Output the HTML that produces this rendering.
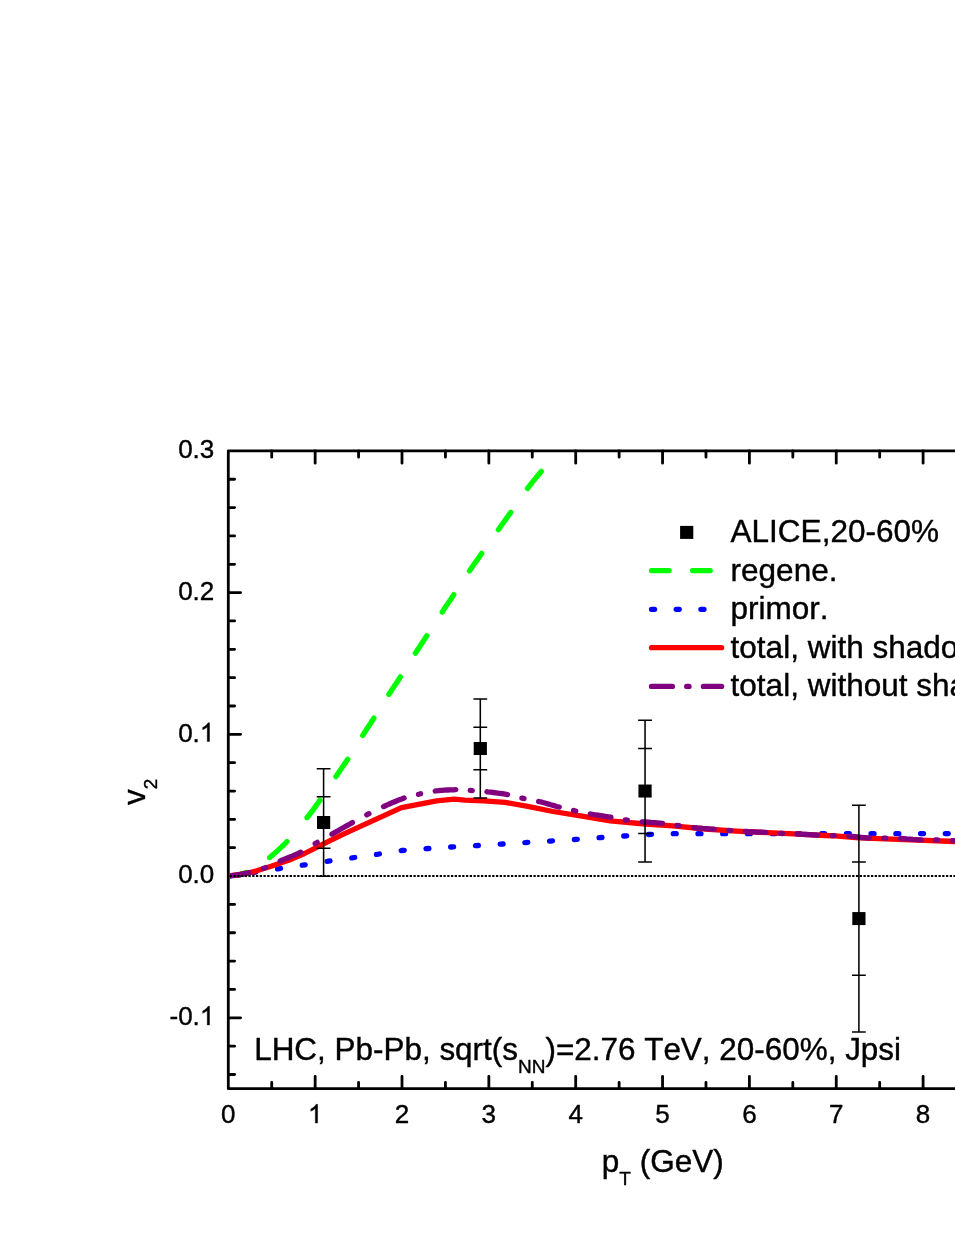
<!DOCTYPE html><html><head><meta charset="utf-8"><title>v2 vs pT</title><style>html,body{margin:0;padding:0;background:#fff}svg{display:block;will-change:transform}text{font-family:"Liberation Sans",sans-serif;fill:#000;font-kerning:none;stroke:#000;stroke-width:0.4px;stroke-linejoin:round}</style></head><body>
<svg width="955" height="1236" viewBox="0 0 955 1236">
<rect width="955" height="1236" fill="#fff"/>
<defs><clipPath id="c"><rect x="229.75" y="450.9" width="800" height="637.7500000000001"/></clipPath></defs>
<path d="M960,450.9 H228.3 V1088.65 H960" fill="none" stroke="#000" stroke-width="2.8" stroke-linejoin="round"/>
<path d="M228.3,1074.48h6.3M228.3,1046.13h6.3M228.3,1017.79h12.3M228.3,989.44h6.3M228.3,961.10h6.3M228.3,932.76h6.3M228.3,904.41h6.3M228.3,876.07h12.3M228.3,847.72h6.3M228.3,819.38h6.3M228.3,791.03h6.3M228.3,762.69h6.3M228.3,734.34h12.3M228.3,706.00h6.3M228.3,677.66h6.3M228.3,649.31h6.3M228.3,620.97h6.3M228.3,592.62h12.3M228.3,564.28h6.3M228.3,535.93h6.3M228.3,507.59h6.3M228.3,479.24h6.3M271.73,450.9v6.3M271.73,1088.65v-6.3M315.15,450.9v12.3M315.15,1088.65v-12.3M358.57,450.9v6.3M358.57,1088.65v-6.3M402.00,450.9v12.3M402.00,1088.65v-12.3M445.43,450.9v6.3M445.43,1088.65v-6.3M488.85,450.9v12.3M488.85,1088.65v-12.3M532.27,450.9v6.3M532.27,1088.65v-6.3M575.70,450.9v12.3M575.70,1088.65v-12.3M619.12,450.9v6.3M619.12,1088.65v-6.3M662.55,450.9v12.3M662.55,1088.65v-12.3M705.97,450.9v6.3M705.97,1088.65v-6.3M749.40,450.9v12.3M749.40,1088.65v-12.3M792.83,450.9v6.3M792.83,1088.65v-6.3M836.25,450.9v12.3M836.25,1088.65v-12.3M879.67,450.9v6.3M879.67,1088.65v-6.3M923.10,450.9v12.3M923.10,1088.65v-12.3M966.52,450.9v6.3M966.52,1088.65v-6.3" fill="none" stroke="#000" stroke-width="2.8" stroke-linecap="round"/>
<g clip-path="url(#c)" fill="none" stroke-linecap="round" stroke-linejoin="round">
<path d="M228.5,876.0L228.8,876.0L231.8,875.7L234.8,875.3L237.8,874.7L240.7,874.1L243.6,873.3L245.9,872.6M269.6,857.6L269.7,857.6L272.0,855.6L274.2,853.6L276.4,851.6L278.6,849.6L280.8,847.6L283.0,845.5L285.2,843.4L287.0,841.5M307.0,817.7L307.1,817.7L308.9,815.3L310.7,813.0L312.5,810.6L314.3,808.1L316.1,805.7L317.8,803.3L319.6,800.8L319.9,800.3M335.9,776.6L336.1,776.4L337.7,773.9L339.4,771.4L341.1,769.0L342.8,766.5L344.5,764.0L346.2,761.5L347.7,759.2M362.7,735.4L362.8,735.3L364.4,732.8L366.0,730.3L367.6,727.8L369.3,725.2L370.9,722.7L372.5,720.2L373.9,718.0M388.8,694.3L388.9,694.2L390.6,691.7L392.2,689.2L393.9,686.7L395.6,684.2L397.3,681.7L398.9,679.2L400.4,676.9M415.4,653.1L415.5,653.0L417.1,650.5L418.8,648.0L420.4,645.5L422.1,643.0L423.7,640.5L425.3,637.9L426.8,635.7M442.2,612.0L442.2,611.9L443.9,609.4L445.5,606.9L447.2,604.5L448.9,602.0L450.6,599.5L452.2,597.0L453.8,594.6M469.5,570.8L469.6,570.7L471.3,568.2L473.0,565.8L474.7,563.3L476.5,560.9L478.2,558.4L479.9,555.9L481.6,553.5L481.7,553.4M498.4,529.7L498.5,529.6L500.2,527.1L501.9,524.7L503.7,522.2L505.4,519.8L507.2,517.4L508.9,514.9L510.7,512.5L510.8,512.3M527.5,488.5L527.5,488.5L529.3,486.2L531.1,483.8L533.0,481.4L534.9,479.1L536.8,476.8L538.7,474.5L540.6,472.2L541.3,471.4" stroke="#00ff00" stroke-width="5.3"/>
<path d="M228.5,876.0L228.8,876.0L231.1,875.6M252.9,872.5L253.0,872.5L255.8,872.1M277.6,868.9L277.8,868.9L280.5,868.5M302.3,865.2L302.5,865.2L305.2,864.8M327.1,861.3L327.2,861.3L330.0,860.9M351.8,857.9L352.0,857.9L354.7,857.5M376.5,854.4L376.8,854.4L379.4,854.0M401.3,850.6L401.5,850.5L404.2,850.3M426.0,848.7L426.0,848.7L428.9,848.5M450.7,847.0L450.8,847.0L453.6,846.8M475.5,845.7L475.5,845.7L478.4,845.5M500.2,844.2L500.2,844.2L503.1,844.0M524.9,842.6L525.0,842.6L527.8,842.4M549.6,841.1L549.8,841.1L552.5,840.9M574.4,839.5L574.5,839.5L577.3,839.3M599.1,837.7L599.2,837.7L602.0,837.5M623.8,836.0L624.0,836.0L626.7,835.8M648.6,834.5L648.8,834.5L651.5,834.3M673.3,833.7L673.5,833.7L676.2,833.7M698.0,833.7L698.2,833.7L700.9,833.7M722.7,833.7L722.8,833.7L725.6,833.7M747.5,833.7L747.5,833.7L750.4,833.7M772.2,833.7L772.2,833.7L775.1,833.7M796.9,833.7L797.0,833.7L799.8,833.7M821.7,833.7L821.8,833.7L824.6,833.7M846.4,833.7L846.5,833.7L849.3,833.7M871.1,833.7L871.2,833.7L874.0,833.7M895.9,833.7L896.0,833.7L898.8,833.7M920.6,833.6L920.8,833.6L923.5,833.6M945.3,833.6L945.5,833.6L948.2,833.6" stroke="#0000ff" stroke-width="5.3"/>
<path d="M228.5,876.0L240.0,874.4L250.0,872.6L256.8,870.8L271.1,866.3L288.7,860.3L304.6,853.5L325.5,842.8L345.0,833.4L401.5,807.7L436.7,800.8L453.9,799.2L465.0,800.1L483.8,800.8L505.2,802.4L527.8,806.4L553.0,811.5L585.0,816.7L610.1,820.8L645.3,824.0L673.0,825.9L705.0,829.0L736.4,831.1L767.8,832.7L799.2,834.2L825.0,835.5L835.0,835.9L858.9,837.8L897.8,839.3L960.0,841.7" stroke="#ff0000" stroke-width="5.3"/>
<path d="M228.5,876.0L228.8,876.0L231.8,875.7L234.8,875.3L237.8,874.9L240.8,874.4L243.8,873.8L246.8,873.2L249.0,872.7M263.4,868.4L263.5,868.4L265.5,867.6M280.2,861.0L280.2,861.0L283.2,859.7L286.2,858.5L289.2,857.3L292.2,856.1L295.2,854.8L298.2,853.4L300.7,852.3M315.1,843.6L315.2,843.6L317.2,842.4M331.9,834.1L332.0,834.1L335.0,832.4L338.0,830.7L341.0,829.0L344.0,827.3L347.0,825.6L350.0,824.0L352.4,822.6M366.8,814.8L367.0,814.7L368.9,813.7M383.6,806.6L383.8,806.5L386.8,805.1L389.8,803.8L392.8,802.5L395.8,801.2L398.8,800.0L401.8,798.9L404.1,798.1M418.5,794.3L418.8,794.3L420.6,793.8M435.3,791.0L435.5,790.9L438.5,790.7L441.5,790.4L444.5,790.2L447.5,790.0L450.5,789.9L453.5,789.8L455.8,789.7M470.2,790.4L470.2,790.4L472.3,790.6M487.0,791.7L487.2,791.8L490.2,792.1L493.2,792.5L496.2,792.9L499.2,793.3L502.2,793.7L505.2,794.2L507.5,794.6M521.9,798.1L522.0,798.1L524.0,798.6M538.7,801.5L538.8,801.5L541.8,802.2L544.8,803.0L547.8,803.9L550.8,804.8L553.8,805.6L556.8,806.5L559.2,807.1M573.6,810.5L573.8,810.5L575.7,811.0M590.4,814.0L590.5,814.0L593.5,814.5L596.5,815.0L599.5,815.4L602.5,815.9L605.5,816.4L608.5,816.8L610.9,817.2M625.3,819.9L625.5,819.9L627.4,820.2M642.1,821.8L642.2,821.8L645.2,822.0L648.2,822.2L651.2,822.5L654.2,822.7L657.2,822.9L660.2,823.1L662.6,823.4M677.0,825.4L677.0,825.4L679.1,825.7M693.8,827.6L694.0,827.6L697.0,827.9L700.0,828.1L703.0,828.4L706.0,828.6L709.0,828.8L712.0,829.1L714.3,829.2M728.7,830.4L728.8,830.4L730.8,830.6M745.5,831.5L745.8,831.5L748.8,831.7L751.8,831.8L754.8,831.9L757.8,832.1L760.8,832.2L763.8,832.3L766.0,832.4M780.4,833.4L780.5,833.4L782.5,833.5M797.2,834.1L797.2,834.1L800.2,834.2L803.2,834.4L806.2,834.5L809.2,834.7L812.2,834.9L815.2,835.0L817.7,835.2M832.1,835.6L832.2,835.6L834.2,835.7M848.9,836.2L849.0,836.2L852.0,836.4L855.0,836.7L858.0,837.0L861.0,837.3L864.0,837.6L867.0,837.9L869.4,838.0M883.8,838.1L884.0,838.1L885.9,838.1M900.6,838.5L900.8,838.5L903.8,838.6L906.8,838.9L909.8,839.1L912.8,839.4L915.8,839.6L918.8,839.8L921.1,839.9M935.5,840.0L935.8,840.0L937.6,840.0M952.3,840.5L952.5,840.6L955.5,840.7L958.5,840.8L960.0,840.9" stroke="#800080" stroke-width="5.3"/>
</g>
<line x1="229.70000000000002" y1="876" x2="955" y2="876" stroke="#000" stroke-width="2" stroke-dasharray="2.3 1.45"/>
<line x1="323.6" y1="768.64" x2="323.6" y2="876.35" stroke="#000" stroke-width="1.55"/>
<path d="M316.70000000000005,768.64h13.8M316.70000000000005,876.35h13.8M316.70000000000005,796.84h13.8M316.70000000000005,848.15h13.8" stroke="#000" stroke-width="1.5" fill="none"/>
<rect x="317.0" y="816.00" width="13.2" height="13" fill="#000"/>
<line x1="480.3" y1="698.91" x2="480.3" y2="798.12" stroke="#000" stroke-width="1.55"/>
<path d="M473.40000000000003,698.91h13.8M473.40000000000003,798.12h13.8M473.40000000000003,727.26h13.8M473.40000000000003,769.77h13.8" stroke="#000" stroke-width="1.5" fill="none"/>
<rect x="473.7" y="742.02" width="13.2" height="13" fill="#000"/>
<line x1="645.05" y1="720.17" x2="645.05" y2="861.89" stroke="#000" stroke-width="1.55"/>
<path d="M638.15,720.17h13.8M638.15,861.89h13.8M638.15,748.52h13.8M638.15,833.55h13.8" stroke="#000" stroke-width="1.5" fill="none"/>
<rect x="638.4499999999999" y="784.53" width="13.2" height="13" fill="#000"/>
<line x1="858.9" y1="805.21" x2="858.9" y2="1031.96" stroke="#000" stroke-width="1.55"/>
<path d="M852.0,805.21h13.8M852.0,1031.96h13.8M852.0,861.89h13.8M852.0,975.27h13.8" stroke="#000" stroke-width="1.5" fill="none"/>
<rect x="852.3" y="912.08" width="13.2" height="13" fill="#000"/>
<text x="214.3" y="458.1" font-size="26" text-anchor="end">0.3</text>
<text x="214.3" y="599.8" font-size="26" text-anchor="end">0.2</text>
<text x="178.16" y="741.5" font-size="26">0.</text>
<path transform="translate(199.84,741.54) scale(0.012695,-0.012695)" d="M763 0H583V1147Q518 1085 412.5 1023Q307 961 223 930V1104Q374 1175 487 1276Q600 1377 647 1472H763Z" fill="#000" stroke="#000" stroke-width="31.5" stroke-linejoin="round"/>
<text x="214.3" y="883.3" font-size="26" text-anchor="end">0.0</text>
<text x="169.50" y="1025.0" font-size="26">-0.</text>
<path transform="translate(199.84,1024.99) scale(0.012695,-0.012695)" d="M763 0H583V1147Q518 1085 412.5 1023Q307 961 223 930V1104Q374 1175 487 1276Q600 1377 647 1472H763Z" fill="#000" stroke="#000" stroke-width="31.5" stroke-linejoin="round"/>
<text x="228.3" y="1123" font-size="26" text-anchor="middle">0</text>
<path transform="translate(307.92,1123.00) scale(0.012695,-0.012695)" d="M763 0H583V1147Q518 1085 412.5 1023Q307 961 223 930V1104Q374 1175 487 1276Q600 1377 647 1472H763Z" fill="#000" stroke="#000" stroke-width="31.5" stroke-linejoin="round"/>
<text x="402.0" y="1123" font-size="26" text-anchor="middle">2</text>
<text x="488.8" y="1123" font-size="26" text-anchor="middle">3</text>
<text x="575.7" y="1123" font-size="26" text-anchor="middle">4</text>
<text x="662.5" y="1123" font-size="26" text-anchor="middle">5</text>
<text x="749.4" y="1123" font-size="26" text-anchor="middle">6</text>
<text x="836.2" y="1123" font-size="26" text-anchor="middle">7</text>
<text x="923.1" y="1123" font-size="26" text-anchor="middle">8</text>
<text x="601.8" y="1172" font-size="31.5">p<tspan font-size="19" dy="13">T</tspan><tspan dy="-13"> (GeV)</tspan></text>
<text transform="translate(144.9,805) rotate(-90)" font-size="31.5">v<tspan font-size="19" dy="12.3">2</tspan></text>
<text x="254.2" y="1060.1" font-size="31.44">LHC, Pb-Pb, sqrt(s<tspan font-size="19" dy="13.2">NN</tspan><tspan dy="-13.2">)=2.76 TeV, 20-60%, Jpsi</tspan></text>
<rect x="680.1" y="525.9" width="13.2" height="13" fill="#000"/>
<text x="730.6" y="542.2" font-size="31.5">ALICE,20-60%</text>
<g fill="none" stroke-linecap="round">
<path d="M651.5,570.6L669.1,570.6M692.6,570.6L710.2,570.6" stroke="#00ff00" stroke-width="5.3"/>
<path d="M651.5,609.3L654.6,609.3M676.2,609.3L679.2,609.3M700.9,609.3L704.0,609.3" stroke="#0000ff" stroke-width="5.3"/>
<path d="M651.5,647.7L721.6,647.7" stroke="#ff0000" stroke-width="5.3"/>
<path d="M651.5,686.4L672.4,686.4M686.7,686.4L689.0,686.4M703.4,686.4L721.6,686.4" stroke="#800080" stroke-width="5.3"/>
</g>
<text x="730.6" y="580.5" font-size="31.5">regene.</text>
<text x="730.6" y="619" font-size="31.5">primor.</text>
<text x="730.6" y="658" font-size="31.5">total, with shadowing</text>
<text x="730.6" y="696.1" font-size="31.5">total, without shadowing</text>
</svg></body></html>
